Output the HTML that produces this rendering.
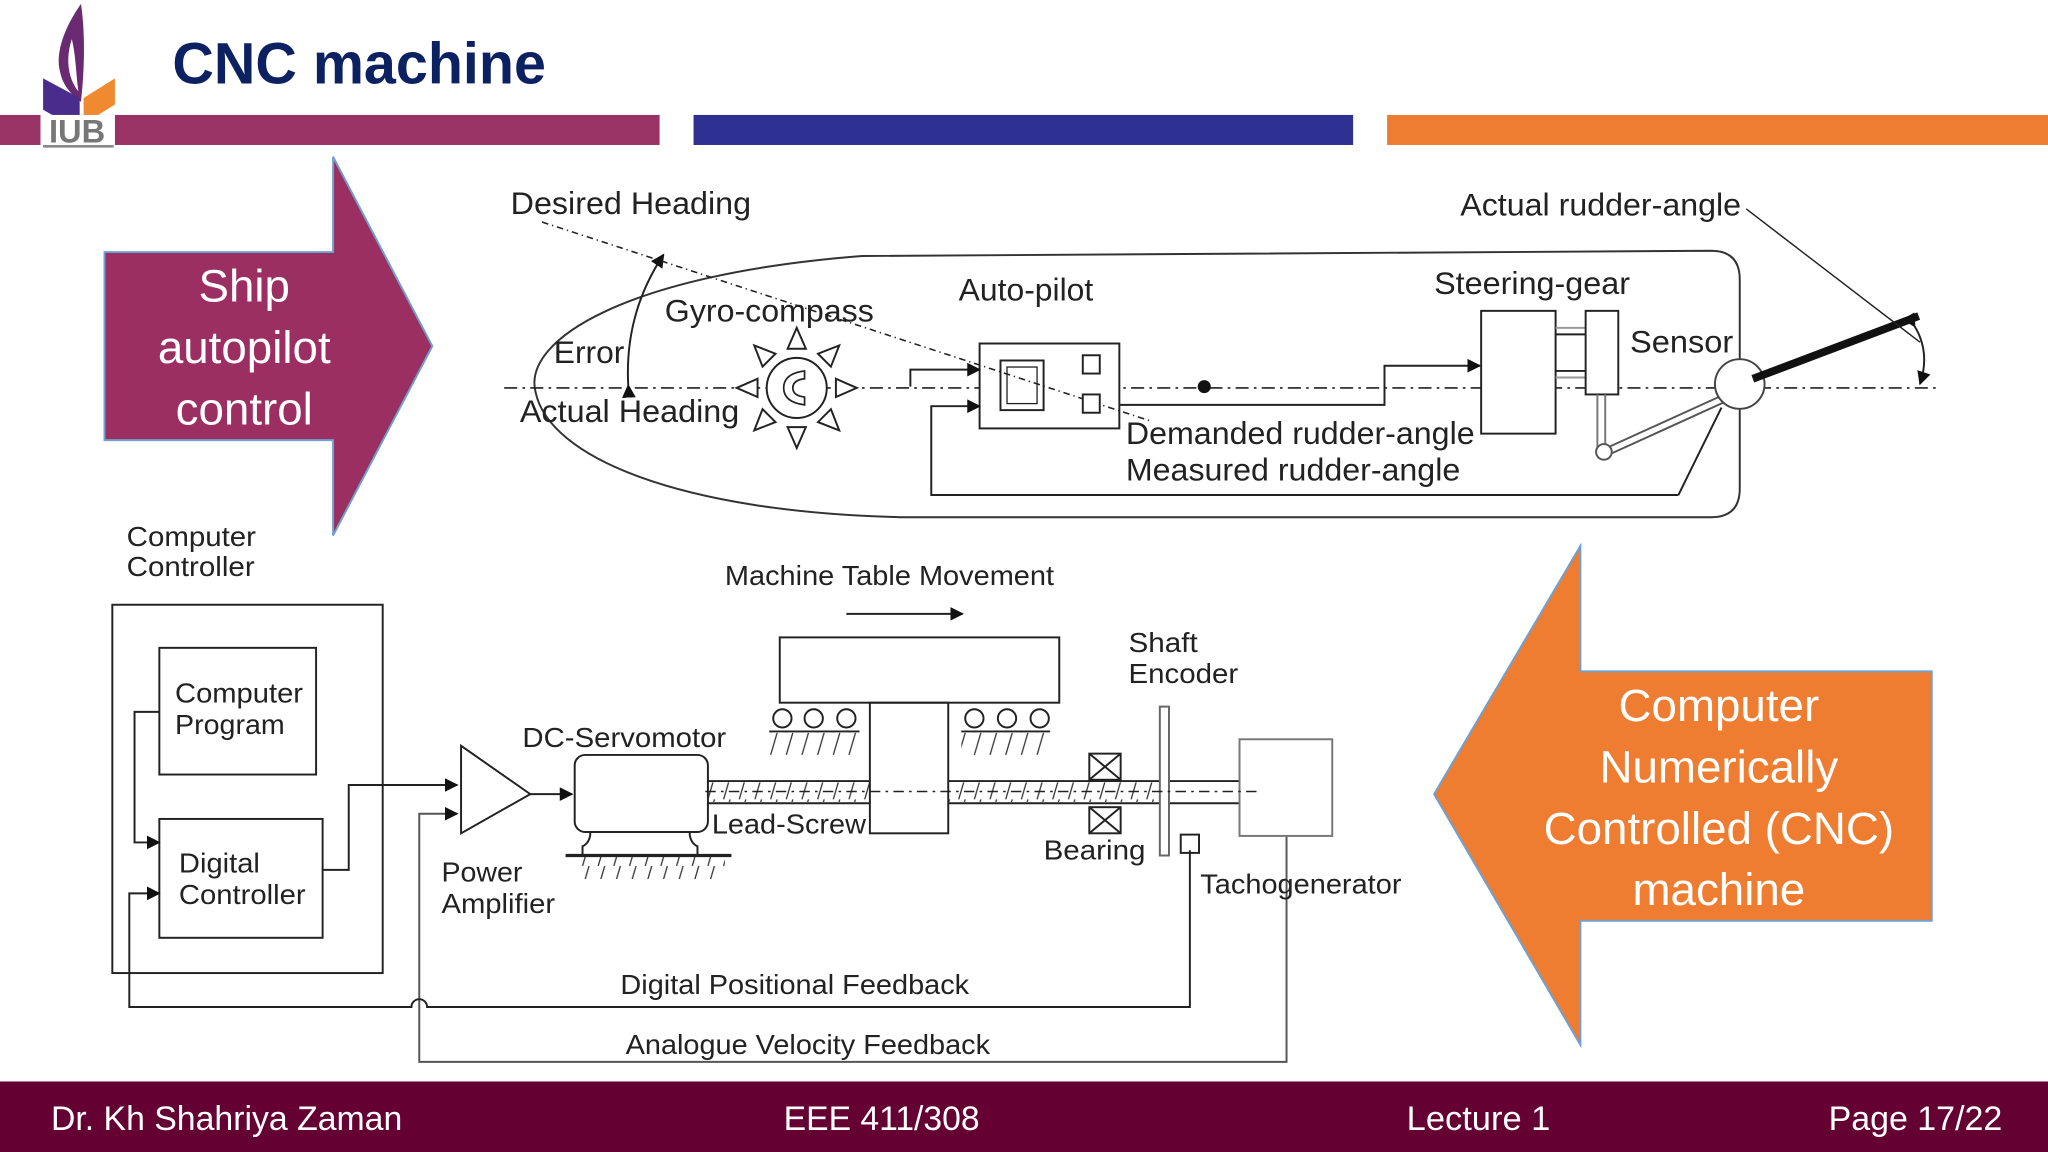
<!DOCTYPE html>
<html><head><meta charset="utf-8"><style>
html,body{margin:0;padding:0;background:#fff;overflow:hidden}
svg{display:block}
.d{font-family:"Liberation Sans",sans-serif;fill:#222}
</style></head><body>
<svg width="2048" height="1152" viewBox="0 0 1568 882" xmlns="http://www.w3.org/2000/svg">
<defs>
<marker id="ah" viewBox="0 0 10 10" refX="9" refY="5" markerWidth="7" markerHeight="7" orient="auto"><path d="M0,0 L10,5 L0,10 z" fill="#111"/></marker>
<pattern id="hat" width="12" height="17" patternUnits="userSpaceOnUse"><line x1="2" y1="17" x2="7" y2="0" stroke="#333" stroke-width="1"/></pattern>
</defs>
<rect width="1568" height="882" fill="#fff"/>
<!-- logo -->
<path d="M62,3 C50,20 42,40 46,55 C48,65 54,72 62,78 C64,60 66,30 62,3Z" fill="#6a2a72"/>
<path d="M55,30 C50,45 52,60 60,70 C58,55 58,42 55,30Z" fill="#fff"/>
<polygon points="33,60 61,75 61,100 33,84" fill="#4a2c8c"/>
<polygon points="64,75 88,60 88,80 64,95" fill="#f08a30"/>
<rect x="0" y="88" width="505" height="23" fill="#993366"/>
<rect x="531" y="88" width="505" height="23" fill="#2e3192"/>
<rect x="1062" y="88" width="506" height="23" fill="#ee7d31"/>
<rect x="31" y="88" width="57" height="23" fill="#fff"/>
<text x="59" y="109" text-anchor="middle" font-family="Liberation Sans,sans-serif" font-weight="bold" font-size="25" fill="#777">IUB</text>
<line x1="33" y1="112" x2="87" y2="112" stroke="#888" stroke-width="2"/>
<text x="132" y="64" font-family="Liberation Sans,sans-serif" font-weight="bold" font-size="45" fill="#0b2161" textLength="286" lengthAdjust="spacingAndGlyphs">CNC machine</text>

<!-- big arrows -->
<polygon points="80,193 255,193 255,120 331,265 255,410 255,337 80,337" fill="#9b2f62" stroke="#6fa0d0" stroke-width="1.5"/>
<g font-family="Liberation Sans,sans-serif" font-size="35" fill="#fff" text-anchor="middle">
<text x="187" y="231">Ship</text><text x="187" y="278">autopilot</text><text x="187" y="325">control</text>
</g>
<polygon points="1479,514 1210,514 1210,418 1098,608 1210,800 1210,705 1479,705" fill="#ee7d31" stroke="#6fa0d0" stroke-width="1.5"/>
<g font-family="Liberation Sans,sans-serif" font-size="35" fill="#fff" text-anchor="middle">
<text x="1316" y="552">Computer</text><text x="1316" y="599">Numerically</text><text x="1316" y="646">Controlled (CNC)</text><text x="1316" y="693">machine</text>
</g>

<!-- ship diagram -->
<g fill="none" stroke="#222" stroke-width="1.5">
<path d="M1310,192 L660,196 C480,210 400,260 410,300 C420,350 520,392 690,396 L1310,396 Q1332,396 1332,374 L1332,214 Q1332,192 1310,192Z" stroke="#333"/>
<line x1="386" y1="297" x2="1486" y2="297" stroke-dasharray="10,4,2,4" stroke-width="1.3"/>
<circle cx="610" cy="297" r="23" fill="#fff"/>
<path d="M616,284 Q600,286 600,297 Q600,308 616,310 L616,304 Q607,303 607,297 Q607,291 616,290Z" stroke-width="1.3"/>
<g transform="translate(610,297)" fill="#fff">
<g id="tri"><polygon points="-7,-30 7,-30 0,-46"/></g>
<use href="#tri" transform="rotate(45)"/><use href="#tri" transform="rotate(90)"/><use href="#tri" transform="rotate(135)"/>
<use href="#tri" transform="rotate(180)"/><use href="#tri" transform="rotate(225)"/><use href="#tri" transform="rotate(270)"/><use href="#tri" transform="rotate(315)"/>
</g>
<path d="M481,295 Q478,240 508,195" marker-end="url(#ah)" marker-start="url(#ah)"/>
<rect x="750" y="263" width="107" height="65" fill="#fff"/>
<line x1="415" y1="170" x2="880" y2="322" stroke-dasharray="5,3,1,3" stroke-width="1.2"/>
<rect x="766" y="276" width="33" height="38"/><rect x="771" y="281" width="23" height="28" stroke-width="1"/>
<rect x="829" y="272" width="13" height="14" fill="#fff"/><rect x="829" y="302" width="13" height="14" fill="#fff"/>
<polyline points="697,296 697,283 750,283" marker-end="url(#ah)"/>
<polyline points="1285,379 713,379 713,311 750,311" marker-end="url(#ah)"/>
<line x1="1285" y1="379" x2="1318" y2="312"/>
<polyline points="857,310 1060,310 1060,280 1133,280" marker-end="url(#ah)"/>
<rect x="1134" y="238" width="57" height="94" fill="#fff"/>
<line x1="1191" y1="251" x2="1214" y2="251" stroke="#999"/><line x1="1191" y1="256" x2="1214" y2="256"/>
<line x1="1191" y1="284" x2="1214" y2="284"/><line x1="1191" y1="289" x2="1214" y2="289" stroke="#999"/>
<rect x="1214" y="238" width="25" height="64" fill="#fff"/>
<line x1="1223" y1="302" x2="1223" y2="342" stroke="#777"/><line x1="1229" y1="302" x2="1229" y2="342" stroke="#777"/>
<line x1="1230" y1="343" x2="1318" y2="303" stroke="#555"/><line x1="1232" y1="348" x2="1320" y2="308" stroke="#555"/>
<circle cx="1228" cy="346" r="6" fill="#fff" stroke="#555"/>
<circle cx="1332" cy="294" r="19" fill="#fff" stroke="#444"/>
<line x1="1342" y1="290" x2="1469" y2="242" stroke="#111" stroke-width="6"/>
<line x1="1337" y1="160" x2="1470" y2="262" stroke-width="1.1"/>
<path d="M1466,250 Q1478,270 1470,294" marker-end="url(#ah)" marker-start="url(#ah)"/>
</g>
<circle cx="922" cy="296" r="5" fill="#111"/>
<g class="d" font-size="24" lengthAdjust="spacingAndGlyphs">
<text x="391" y="164" textLength="184" lengthAdjust="spacingAndGlyphs">Desired Heading</text>
<text x="509" y="246" textLength="160" lengthAdjust="spacingAndGlyphs">Gyro-compass</text>
<text x="424" y="278" textLength="54" lengthAdjust="spacingAndGlyphs">Error</text>
<text x="398" y="323" textLength="168" lengthAdjust="spacingAndGlyphs">Actual Heading</text>
<text x="734" y="230" textLength="103" lengthAdjust="spacingAndGlyphs">Auto-pilot</text>
<text x="1098" y="225" textLength="150" lengthAdjust="spacingAndGlyphs">Steering-gear</text>
<text x="1248" y="270" textLength="79" lengthAdjust="spacingAndGlyphs">Sensor</text>
<text x="1118" y="165" textLength="215" lengthAdjust="spacingAndGlyphs">Actual rudder-angle</text>
<text x="862" y="340" textLength="267" lengthAdjust="spacingAndGlyphs">Demanded rudder-angle</text>
<text x="862" y="368" textLength="256" lengthAdjust="spacingAndGlyphs">Measured rudder-angle</text>
</g>

<!-- CNC diagram -->
<g fill="none" stroke="#222" stroke-width="1.5">
<rect x="86" y="463" width="207" height="282"/>
<rect x="122" y="496" width="120" height="97"/>
<rect x="122" y="627" width="125" height="91"/>
<polyline points="122,545 103,545 103,645 122,645" marker-end="url(#ah)"/>
<polyline points="247,666 267,666 267,601 350,601" marker-end="url(#ah)"/>
<polygon points="353,571 353,638 406,608"/>
<line x1="406" y1="608" x2="438" y2="608" marker-end="url(#ah)"/>
<polyline points="985,640 985,813 321,813 321,623 350,623" stroke="#555" marker-end="url(#ah)"/>
<path d="M911,651 L911,771 L327,771 A6,6 0 0 0 315,771 L99,771 L99,684 L122,684" marker-end="url(#ah)"/>
<rect x="440" y="578" width="102" height="59" rx="8"/>
<path d="M452,637 Q452,645 446,648 L446,655 M528,637 Q528,645 534,648 L534,655"/>
<line x1="433" y1="655" x2="560" y2="655" stroke-width="2.5"/>
<rect x="443" y="656" width="112" height="17" fill="url(#hat)" stroke="none"/>
<line x1="542" y1="598" x2="949" y2="598"/><line x1="542" y1="615" x2="949" y2="615"/>
<rect x="542" y="599" width="350" height="15" fill="url(#hat)" stroke="none"/>
<rect x="666" y="538" width="60" height="100" fill="#fff"/>
<rect x="597" y="488" width="214" height="50"/>
<line x1="648" y1="470" x2="737" y2="470" marker-end="url(#ah)"/>
<circle cx="599" cy="550" r="7"/><circle cx="623" cy="550" r="7"/><circle cx="648" cy="550" r="7"/>
<circle cx="746" cy="550" r="7"/><circle cx="771" cy="550" r="7"/><circle cx="796" cy="550" r="7"/>
<line x1="589" y1="560" x2="658" y2="560"/><line x1="736" y1="560" x2="804" y2="560"/>
<rect x="589" y="561" width="68" height="17" fill="url(#hat)" stroke="none"/>
<rect x="736" y="561" width="68" height="17" fill="url(#hat)" stroke="none"/>
<rect x="834" y="577" width="24" height="20" fill="#fff"/><path d="M834,577 L858,597 M858,577 L834,597"/>
<rect x="834" y="618" width="24" height="20" fill="#fff"/><path d="M834,618 L858,638 M858,618 L834,638"/>
<rect x="888" y="541" width="7" height="114" fill="#fff" stroke="#666"/>
<rect x="904" y="639" width="14" height="14"/>
<rect x="949" y="566" width="71" height="74" stroke="#777"/>
<line x1="540" y1="606" x2="965" y2="606" stroke-dasharray="8,4,2,4" stroke-width="1.2"/>
</g>
<g class="d" font-size="21">
<text x="97" y="418" textLength="99" lengthAdjust="spacingAndGlyphs">Computer</text><text x="97" y="441" textLength="98" lengthAdjust="spacingAndGlyphs">Controller</text>
<text x="134" y="538" textLength="98" lengthAdjust="spacingAndGlyphs">Computer</text><text x="134" y="562" textLength="84" lengthAdjust="spacingAndGlyphs">Program</text>
<text x="137" y="668" textLength="62" lengthAdjust="spacingAndGlyphs">Digital</text><text x="137" y="692" textLength="97" lengthAdjust="spacingAndGlyphs">Controller</text>
<text x="555" y="448" textLength="252" lengthAdjust="spacingAndGlyphs">Machine Table Movement</text>
<text x="400" y="572" textLength="156" lengthAdjust="spacingAndGlyphs">DC-Servomotor</text>
<text x="545" y="638" textLength="118" lengthAdjust="spacingAndGlyphs">Lead-Screw</text>
<text x="864" y="499" textLength="53" lengthAdjust="spacingAndGlyphs">Shaft</text><text x="864" y="523" textLength="84" lengthAdjust="spacingAndGlyphs">Encoder</text>
<text x="799" y="658" textLength="78" lengthAdjust="spacingAndGlyphs">Bearing</text>
<text x="919" y="684" textLength="154" lengthAdjust="spacingAndGlyphs">Tachogenerator</text>
<text x="338" y="675" textLength="62" lengthAdjust="spacingAndGlyphs">Power</text><text x="338" y="699" textLength="87" lengthAdjust="spacingAndGlyphs">Amplifier</text>
<text x="475" y="761" textLength="267" lengthAdjust="spacingAndGlyphs">Digital Positional Feedback</text>
<text x="479" y="807" textLength="279" lengthAdjust="spacingAndGlyphs">Analogue Velocity Feedback</text>
</g>

<!-- footer -->
<rect x="0" y="828" width="1568" height="54" fill="#650032"/>
<g font-family="Liberation Sans,sans-serif" font-size="26" fill="#fff">
<text x="39" y="865" textLength="269" lengthAdjust="spacingAndGlyphs">Dr. Kh Shahriya Zaman</text>
<text x="600" y="865" textLength="150" lengthAdjust="spacingAndGlyphs">EEE 411/308</text>
<text x="1077" y="865" textLength="110" lengthAdjust="spacingAndGlyphs">Lecture 1</text>
<text x="1400" y="865" textLength="133" lengthAdjust="spacingAndGlyphs">Page 17/22</text>
</g>
</svg>
</body></html>
